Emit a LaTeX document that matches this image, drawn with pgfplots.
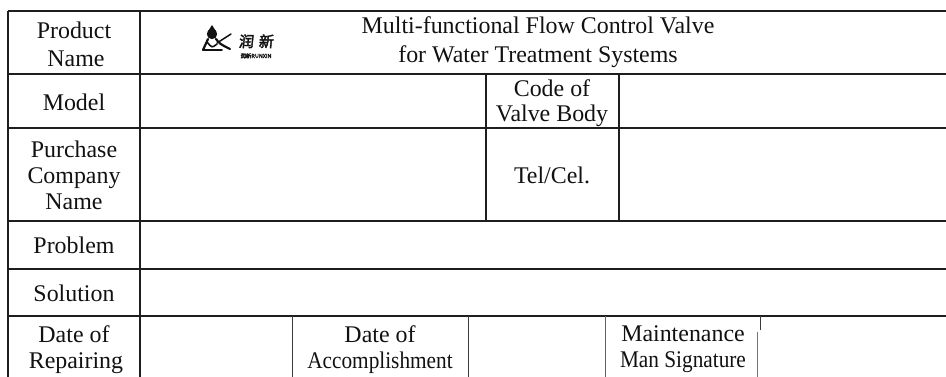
\documentclass[border=0pt]{standalone}
\usepackage{pgfplots}
\pgfplotsset{compat=1.18}
\usepackage{fontspec}
\setmainfont{Liberation Serif}
\newfontfamily\cjk{Noto Sans CJK SC}[FakeBold=2.5,FakeSlant=0.1]
\newfontfamily\cjksmall{Noto Sans CJK SC}[FakeBold=2]
\definecolor{rule}{HTML}{1E1E1E}
\definecolor{thinrule}{HTML}{3A3A3A}
\definecolor{ink}{HTML}{111111}
\begin{document}
\begin{tikzpicture}
\begin{axis}[
  width=946bp, height=377bp, scale only axis,
  xmin=0, xmax=946, ymin=0, ymax=377, y dir=reverse,
  hide axis, clip=true,
  every axis plot/.append style={no markers},
]
% horizontal rules
\addplot[rule, line width=1.6bp] coordinates {(8,11) (946,11)};
\addplot[rule, line width=1.8bp] coordinates {(8,74) (946,74)};
\addplot[rule, line width=1.6bp] coordinates {(8,128) (946,128)};
\addplot[rule, line width=1.4bp] coordinates {(8,221) (946,221)};
\addplot[rule, line width=1.4bp] coordinates {(8,269) (946,269)};
\addplot[rule, line width=1.4bp] coordinates {(8,316) (946,316)};
% vertical rules
\addplot[rule, line width=1.6bp] coordinates {(8,11) (8,377)};
\addplot[rule, line width=1.4bp] coordinates {(140,11) (140,377)};
\addplot[rule, line width=1.3bp] coordinates {(486,74) (486,221)};
\addplot[rule, line width=1.3bp] coordinates {(619,74) (619,221)};
\addplot[thinrule, line width=1.0bp] coordinates {(292,316) (292,377)};
\addplot[thinrule, line width=1.0bp] coordinates {(468,316) (468,377)};
\addplot[thinrule!80, line width=0.9bp] coordinates {(605,316) (605,377)};
\addplot[thinrule, line width=0.9bp] coordinates {(760,316) (760,330)};
\addplot[thinrule!70, line width=0.9bp] coordinates {(757,332) (757,377)};

% logo
\fill[ink] (axis cs:212,34) circle[radius=5.2bp];
\fill[ink] (axis cs:207.6,32) -- (axis cs:212,25) -- (axis cs:216.4,32) -- cycle;
\draw[ink, line width=2.2bp, line join=round, line cap=round]
  (axis cs:203,50) -- (axis cs:208,39)
  (axis cs:216,39) .. controls (axis cs:220,44) .. (axis cs:230,49);
\draw[ink, line width=1.8bp, line cap=round] (axis cs:203,50) -- (axis cs:222,50);
\draw[ink, line width=1.6bp, line cap=round] (axis cs:207,42) .. controls (axis cs:212,48) .. (axis cs:217,44);
\draw[ink, line width=1.5bp, line cap=round] (axis cs:231,34) -- (axis cs:217,43);
\node[anchor=base, text=ink, inner sep=0pt, font=\cjk\fontsize{15}{15}\selectfont] at (axis cs:256,47) {润\hspace{5bp}新};
\node[anchor=base, text=ink, inner sep=0pt, font=\cjksmall\fontsize{5.5}{5.5}\selectfont] at (axis cs:256,58) {润新RUNXIN};

% texts
\tikzset{lab/.style={anchor=base, inner sep=0pt, text=ink, font=\fontsize{24}{27}\selectfont}}
\node[lab] at (axis cs:74,38) {Product};
\node[lab] at (axis cs:76,66) {Name};
\node[lab] at (axis cs:538,33) {Multi-functional Flow Control Valve};
\node[lab] at (axis cs:538,62) {for Water Treatment Systems};
\node[lab] at (axis cs:74,110) {Model};
\node[lab] at (axis cs:552,96) {Code of};
\node[lab] at (axis cs:552,121) {Valve Body};
\node[lab] at (axis cs:74,157) {Purchase};
\node[lab] at (axis cs:74,183) {Company};
\node[lab] at (axis cs:74,209) {Name};
\node[lab] at (axis cs:552,183) {Tel/Cel.};
\node[lab] at (axis cs:74,253) {Problem};
\node[lab] at (axis cs:74,301) {Solution};
\node[lab] at (axis cs:74,342) {Date of};
\node[lab] at (axis cs:76,368) {Repairing};
\node[lab] at (axis cs:380,342) {Date of};
\node[lab] at (axis cs:380,368) {\scalebox{0.89}[1]{Accomplishment}};
\node[lab] at (axis cs:683,341) {Maintenance};
\node[lab] at (axis cs:683,367) {\scalebox{0.89}[1]{Man Signature}};
\end{axis}
\pgfresetboundingbox
\path (current axis.south west) rectangle (current axis.north east);
\end{tikzpicture}
\end{document}
